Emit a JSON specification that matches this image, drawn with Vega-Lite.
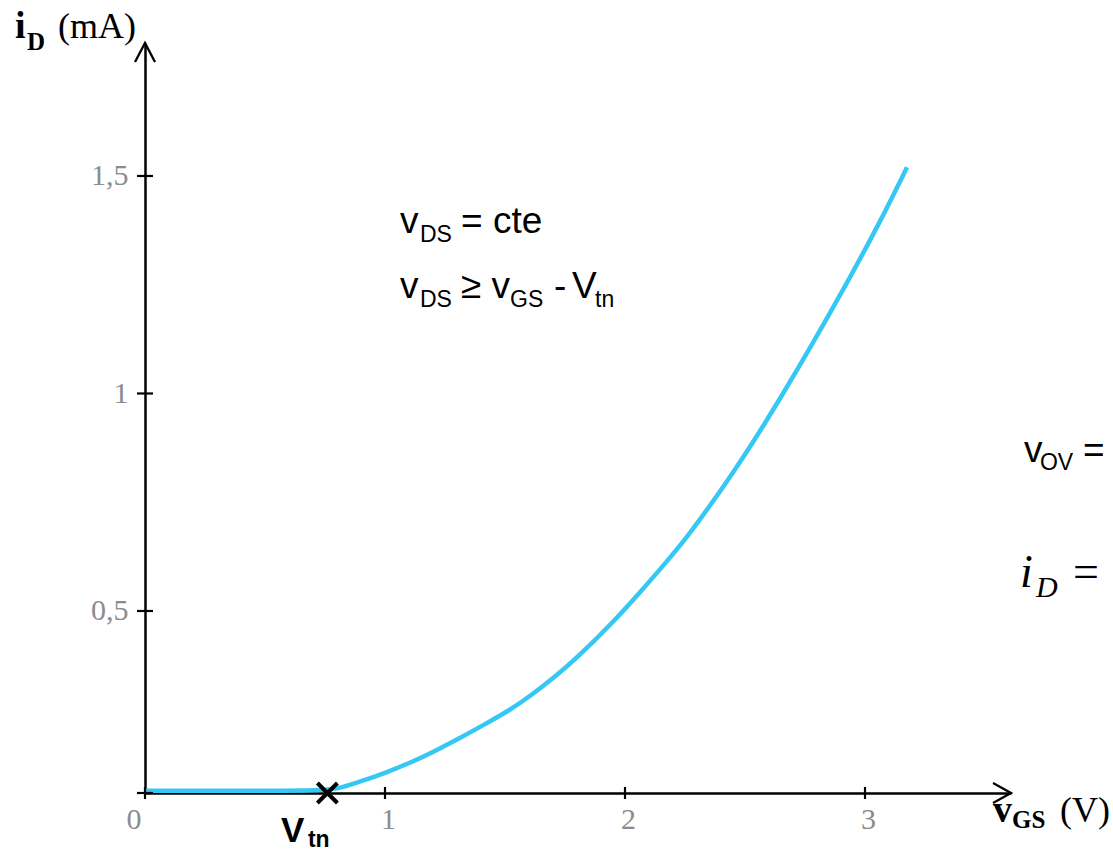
{
  "$schema": "https://vega.github.io/schema/vega-lite/v6.json",
  "width": 866,
  "height": 750,
  "autosize": {"type": "none"},
  "padding": {"left": 145, "top": 43, "right": 102, "bottom": 59},
  "background": "white",
  "config": {"view": {"stroke": null}},
  "datasets": {
    "curve": [
      {"vgs": 0, "id": 0.087}, {"vgs": 0.4, "id": 0.087}, {"vgs": 0.754, "id": 0.087}, {"vgs": 0.82, "id": 0.094},
      {"vgs": 0.896, "id": 0.1076}, {"vgs": 1.0, "id": 0.1276}, {"vgs": 1.104, "id": 0.1506},
      {"vgs": 1.217, "id": 0.1805}, {"vgs": 1.3125, "id": 0.208}, {"vgs": 1.425, "id": 0.2425},
      {"vgs": 1.521, "id": 0.2724}, {"vgs": 1.617, "id": 0.3095}, {"vgs": 1.7, "id": 0.345},
      {"vgs": 1.8, "id": 0.392}, {"vgs": 1.95, "id": 0.474}, {"vgs": 2.0625, "id": 0.543},
      {"vgs": 2.175, "id": 0.614}, {"vgs": 2.271, "id": 0.679}, {"vgs": 2.354, "id": 0.742},
      {"vgs": 2.45, "id": 0.818}, {"vgs": 2.533, "id": 0.887}, {"vgs": 2.646, "id": 0.988},
      {"vgs": 2.783, "id": 1.116}, {"vgs": 2.925, "id": 1.254},
      {"vgs": 3.0625, "id": 1.394}, {"vgs": 3.175, "id": 1.52}
    ],
    "xticks": [{"v": 0}, {"v": 1}, {"v": 2}, {"v": 3}],
    "yticks": [{"v": 0.0816}, {"v": 0.5}, {"v": 1}, {"v": 1.5}],
    "arrows": [{"x": 3.6083, "y": 0.0816, "dir": "right"}, {"x": 0, "y": 1.8057, "dir": "up"}],
    "vtn": [{"vgs": 0.76, "id": 0.0816}],
    "labels": [
      {"x": 1.0625, "y": 1.369, "text": "v", "kind": "sans"},
      {"x": 1.1458, "y": 1.3485, "text": "DS", "kind": "sans_sub"},
      {"x": 1.3167, "y": 1.369, "text": "= cte", "kind": "sans"},
      {"x": 1.0625, "y": 1.2195, "text": "v", "kind": "sans"},
      {"x": 1.1458, "y": 1.1989, "text": "DS", "kind": "sans_sub"},
      {"x": 1.3167, "y": 1.2195, "text": "≥ v", "kind": "sans"},
      {"x": 1.5208, "y": 1.1989, "text": "GS", "kind": "sans_sub"},
      {"x": 1.7042, "y": 1.2195, "text": "-", "kind": "sans"},
      {"x": 1.7792, "y": 1.2195, "text": "V", "kind": "sans"},
      {"x": 1.875, "y": 1.1989, "text": "tn", "kind": "sans_sub"},
      {"x": 3.6625, "y": 0.8425, "text": "v", "kind": "sans"},
      {"x": 3.729, "y": 0.8241, "text": "OV", "kind": "sans_sub"},
      {"x": 3.908, "y": 0.8425, "text": "=", "kind": "sans"},
      {"x": 3.6458, "y": 0.5552, "text": "i", "kind": "serif_it"},
      {"x": 3.7125, "y": 0.5322, "text": "D", "kind": "serif_it_sub"},
      {"x": 3.8667, "y": 0.5552, "text": "=", "kind": "serif_big"},
      {"x": 0.5667, "y": -0.031, "text": "V", "kind": "sans_bold"},
      {"x": 0.679, "y": -0.0425, "text": "tn", "kind": "sans_bold_sub"},
      {"x": -0.5417, "y": 1.8172, "text": "i", "kind": "serif_bold"},
      {"x": -0.4917, "y": 1.7897, "text": "D", "kind": "serif_bold_sub"},
      {"x": -0.3625, "y": 1.8172, "text": "(mA)", "kind": "serif"},
      {"x": 3.5333, "y": 0.0149, "text": "v", "kind": "serif_bold"},
      {"x": 3.6125, "y": 0.0011, "text": "GS", "kind": "serif_bold_sub"},
      {"x": 3.8125, "y": 0.0149, "text": "(V)", "kind": "serif"}
    ]
  },
  "layer": [
    {
      "data": {"name": "curve"},
      "mark": {"type": "line", "color": "#36C8F5", "strokeWidth": 4.5, "interpolate": "basis", "clip": false},
      "encoding": {
        "x": {"field": "vgs", "type": "quantitative", "scale": {"domain": [0, 3.6083], "nice": false, "zero": false},
          "axis": {"values": [0, 1, 2, 3], "format": "d", "title": null, "grid": false, "ticks": false, "domain": true, "domainColor": "black", "domainWidth": 2.5,
            "labelFont": "Liberation Serif", "labelFontSize": 30, "labelColor": "#8c8c8c", "labelPadding": 11, "labelFlush": false, "labelOverlap": false,
            "labelAlign": {"condition": {"test": "datum.value == 0", "value": "right"}, "value": "center"},
            "labelOffset": {"condition": {"test": "datum.value == 0", "value": -4}, "value": 3}}},
        "y": {"field": "id", "type": "quantitative", "scale": {"domain": [0.0816, 1.8057], "nice": false, "zero": false},
          "axis": {"values": [0.5, 1, 1.5], "format": ".1~f", "labelExpr": "replace(datum.label, '.', ',')", "title": null, "grid": false, "ticks": false, "domain": true, "domainColor": "black", "domainWidth": 2.5,
            "labelFont": "Liberation Serif", "labelFontSize": 30, "labelColor": "#8c8c8c", "labelPadding": 17, "labelFlush": false, "labelOverlap": false}}
      }
    },
    {
      "data": {"name": "xticks"},
      "mark": {"type": "tick", "orient": "vertical", "size": 12, "thickness": 2.2, "color": "black", "opacity": 1, "clip": false},
      "encoding": {
        "x": {"field": "v", "type": "quantitative"},
        "y": {"datum": 0.0816, "type": "quantitative"}
      }
    },
    {
      "data": {"name": "yticks"},
      "mark": {"type": "tick", "orient": "horizontal", "size": 16, "thickness": 2.2, "color": "black", "opacity": 1, "clip": false},
      "encoding": {
        "y": {"field": "v", "type": "quantitative"},
        "x": {"datum": 0, "type": "quantitative"}
      }
    },
    {
      "data": {"name": "arrows"},
      "mark": {"type": "point", "filled": false, "stroke": "black", "strokeWidth": 2.3, "size": 400, "opacity": 1, "clip": false},
      "encoding": {
        "x": {"field": "x", "type": "quantitative"},
        "y": {"field": "y", "type": "quantitative"},
        "shape": {"field": "dir", "type": "nominal", "scale": {"domain": ["right", "up"], "range": ["M-1.8,-1L0,0L-1.8,1", "M-1,1.9L0,0L1,1.9"]}, "legend": null}
      }
    },
    {
      "data": {"name": "vtn"},
      "mark": {"type": "point", "filled": false, "stroke": "black", "strokeWidth": 4, "size": 400, "opacity": 1, "shape": "M-1,-1L1,1M-1,1L1,-1", "clip": false},
      "encoding": {
        "x": {"field": "vgs", "type": "quantitative"},
        "y": {"field": "id", "type": "quantitative"}
      }
    },
    {
      "data": {"name": "labels"},
      "transform": [{"filter": "datum.kind == 'sans'"}],
      "mark": {"type": "text", "align": "left", "baseline": "alphabetic", "font": "Liberation Sans", "fontSize": 37, "color": "black"},
      "encoding": {"x": {"field": "x", "type": "quantitative"}, "y": {"field": "y", "type": "quantitative"}, "text": {"field": "text"}}
    },
    {
      "data": {"name": "labels"},
      "transform": [{"filter": "datum.kind == 'sans_sub'"}],
      "mark": {"type": "text", "align": "left", "baseline": "alphabetic", "font": "Liberation Sans", "fontSize": 23, "color": "black"},
      "encoding": {"x": {"field": "x", "type": "quantitative"}, "y": {"field": "y", "type": "quantitative"}, "text": {"field": "text"}}
    },
    {
      "data": {"name": "labels"},
      "transform": [{"filter": "datum.kind == 'sans_bold'"}],
      "mark": {"type": "text", "align": "left", "baseline": "alphabetic", "font": "Liberation Sans", "fontWeight": "bold", "fontSize": 35, "color": "black"},
      "encoding": {"x": {"field": "x", "type": "quantitative"}, "y": {"field": "y", "type": "quantitative"}, "text": {"field": "text"}}
    },
    {
      "data": {"name": "labels"},
      "transform": [{"filter": "datum.kind == 'sans_bold_sub'"}],
      "mark": {"type": "text", "align": "left", "baseline": "alphabetic", "font": "Liberation Sans", "fontWeight": "bold", "fontSize": 23, "color": "black"},
      "encoding": {"x": {"field": "x", "type": "quantitative"}, "y": {"field": "y", "type": "quantitative"}, "text": {"field": "text"}}
    },
    {
      "data": {"name": "labels"},
      "transform": [{"filter": "datum.kind == 'serif_bold'"}],
      "mark": {"type": "text", "align": "left", "baseline": "alphabetic", "font": "Liberation Serif", "fontWeight": "bold", "fontSize": 38, "color": "black"},
      "encoding": {"x": {"field": "x", "type": "quantitative"}, "y": {"field": "y", "type": "quantitative"}, "text": {"field": "text"}}
    },
    {
      "data": {"name": "labels"},
      "transform": [{"filter": "datum.kind == 'serif_bold_sub'"}],
      "mark": {"type": "text", "align": "left", "baseline": "alphabetic", "font": "Liberation Serif", "fontWeight": "bold", "fontSize": 25, "color": "black"},
      "encoding": {"x": {"field": "x", "type": "quantitative"}, "y": {"field": "y", "type": "quantitative"}, "text": {"field": "text"}}
    },
    {
      "data": {"name": "labels"},
      "transform": [{"filter": "datum.kind == 'serif'"}],
      "mark": {"type": "text", "align": "left", "baseline": "alphabetic", "font": "Liberation Serif", "fontSize": 36, "color": "black"},
      "encoding": {"x": {"field": "x", "type": "quantitative"}, "y": {"field": "y", "type": "quantitative"}, "text": {"field": "text"}}
    },
    {
      "data": {"name": "labels"},
      "transform": [{"filter": "datum.kind == 'serif_it'"}],
      "mark": {"type": "text", "align": "left", "baseline": "alphabetic", "font": "Liberation Serif", "fontStyle": "italic", "fontSize": 46, "color": "black"},
      "encoding": {"x": {"field": "x", "type": "quantitative"}, "y": {"field": "y", "type": "quantitative"}, "text": {"field": "text"}}
    },
    {
      "data": {"name": "labels"},
      "transform": [{"filter": "datum.kind == 'serif_it_sub'"}],
      "mark": {"type": "text", "align": "left", "baseline": "alphabetic", "font": "Liberation Serif", "fontStyle": "italic", "fontSize": 30, "color": "black"},
      "encoding": {"x": {"field": "x", "type": "quantitative"}, "y": {"field": "y", "type": "quantitative"}, "text": {"field": "text"}}
    },
    {
      "data": {"name": "labels"},
      "transform": [{"filter": "datum.kind == 'serif_big'"}],
      "mark": {"type": "text", "align": "left", "baseline": "alphabetic", "font": "Liberation Serif", "fontSize": 46, "color": "black"},
      "encoding": {"x": {"field": "x", "type": "quantitative"}, "y": {"field": "y", "type": "quantitative"}, "text": {"field": "text"}}
    }
  ]
}
